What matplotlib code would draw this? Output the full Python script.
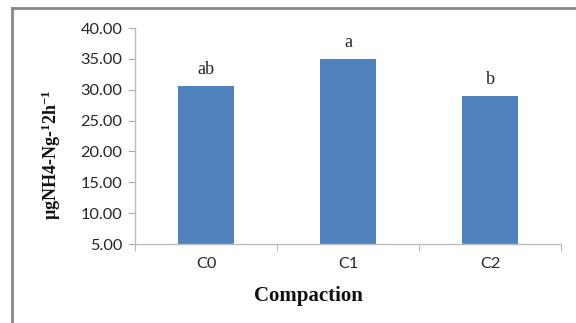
import matplotlib
matplotlib.use("Agg")
import matplotlib.pyplot as plt
from matplotlib.lines import Line2D

categories = ["C0", "C1", "C2"]
values = [30.65, 34.98, 28.93]
letters = ["ab", "a", "b"]
yticks = [5, 10, 15, 20, 25, 30, 35, 40]

plt.rcParams['mathtext.fontset'] = 'custom'
plt.rcParams['mathtext.rm'] = 'Liberation Serif:bold'
plt.rcParams['mathtext.it'] = 'Liberation Serif:bold'
plt.rcParams['mathtext.bf'] = 'Liberation Serif:bold'
plt.rcParams['mathtext.default'] = 'rm'

fig = plt.figure(figsize=(5.76, 3.23), dpi=100)
ax = fig.add_axes([135/576, (323-244)/323, (561-135)/576, (244-28)/323])

x = list(range(len(categories)))
ax.bar(x, values, width=0.40, color="#4F81BD", zorder=2)
for xi, v, l in zip(x, values, letters):
    ax.text(xi, v + 1.3, l, ha="center", va="bottom", fontsize=13,
            family="Liberation Serif", color="#222222")

tick_font = "Lato"
ax.set_xlim(-0.5, 2.5)
ax.set_ylim(5, 40)
ax.set_yticks(yticks)
ax.set_yticklabels([f"{t:.2f}" for t in yticks], family=tick_font, fontsize=11.8, color="#262626")
ax.set_xticks(x)
ax.set_xticklabels(categories, family=tick_font, fontsize=11.8, color="#262626")
ax.set_xticks([-0.5, 0.5, 1.5, 2.5], minor=True)
ax.tick_params(axis="x", which="major", length=0, pad=9)
ax.tick_params(axis="x", which="minor", length=5, color="#AAAAAA", direction="out")
ax.tick_params(axis="y", which="major", length=5, color="#AAAAAA", direction="out", pad=4)
for s in ["top", "right"]:
    ax.spines[s].set_visible(False)
for s in ["left", "bottom"]:
    ax.spines[s].set_color("#BBBBBB")
    ax.spines[s].set_linewidth(1.0)

fig.text(51/576, 1 - 155/323, r"µgNH4-Ng-$^{1}$2h$^{-1}$", rotation=90, ha="center", va="center",
         fontsize=13, family="Liberation Serif", weight="bold", color="#111111")
fig.text(308/576, 1 - 296/323, "Compaction", ha="center", va="center",
         fontsize=15, family="Liberation Serif", weight="bold", color="#111111")

# outer chart frame
fig.add_artist(Line2D([12/576, 12/576], [0, 1 - 7.5/323], transform=fig.transFigure, color="#888888", lw=2))
fig.add_artist(Line2D([12/576, 1], [1 - 7.5/323, 1 - 7.5/323], transform=fig.transFigure, color="#888888", lw=2))

fig.savefig("out.png", dpi=100)
